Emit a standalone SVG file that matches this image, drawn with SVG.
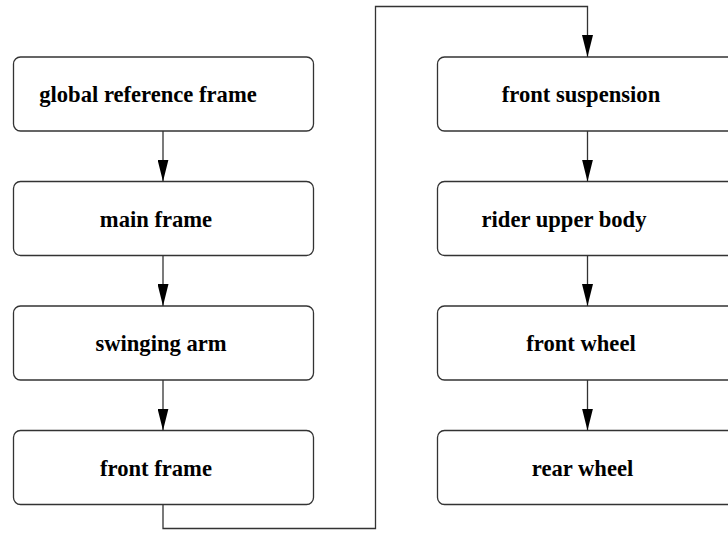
<svg xmlns="http://www.w3.org/2000/svg" width="728" height="534" viewBox="0 0 728 534">
  <style>
    .box { fill: #ffffff; stroke: #333333; stroke-width: 1.3; }
    .label { font-family: "Liberation Serif", "Times New Roman", serif; font-weight: bold; font-size: 22.6px; fill: #000000; text-anchor: middle; }
    .edge { fill: none; stroke: #333333; stroke-width: 1.3; marker-end: url(#arrow); }
  </style>
  <defs>
    <marker id="arrow" markerUnits="userSpaceOnUse" markerWidth="22" markerHeight="11" refX="22" refY="5.5" orient="auto" viewBox="0 0 22 11">
      <path d="M0,0 L22,5.5 L0,11 Z" fill="#000000"/>
    </marker>
  </defs>
  <rect width="728" height="534" fill="#ffffff"/>

  <!-- left column -->
  <g id="global-reference-frame">
    <rect class="box" x="13.5" y="57" width="300" height="74" rx="7"/>
    <text class="label" x="148" y="102">global reference frame</text>
  </g>
  <g id="main-frame">
    <rect class="box" x="13.5" y="181.5" width="300" height="74" rx="7"/>
    <text class="label" x="156" y="226.5">main frame</text>
  </g>
  <g id="swinging-arm">
    <rect class="box" x="13.5" y="306" width="300" height="74" rx="7"/>
    <text class="label" x="161" y="351">swinging arm</text>
  </g>
  <g id="front-frame">
    <rect class="box" x="13.5" y="430.5" width="300" height="74" rx="7"/>
    <text class="label" x="156" y="476">front frame</text>
  </g>

  <!-- right column -->
  <g id="front-suspension">
    <rect class="box" x="437.5" y="57" width="300" height="74" rx="7"/>
    <text class="label" x="581" y="102">front suspension</text>
  </g>
  <g id="rider-upper-body">
    <rect class="box" x="437.5" y="181.5" width="300" height="74" rx="7"/>
    <text class="label" x="564" y="226.5">rider upper body</text>
  </g>
  <g id="front-wheel">
    <rect class="box" x="437.5" y="306" width="300" height="74" rx="7"/>
    <text class="label" x="581" y="351">front wheel</text>
  </g>
  <g id="rear-wheel">
    <rect class="box" x="437.5" y="430.5" width="300" height="74" rx="7"/>
    <text class="label" x="582.5" y="476">rear wheel</text>
  </g>

  <!-- connectors -->
  <g id="connectors">
    <path class="edge" d="M163,131 V181.5"/>
    <path class="edge" d="M163,255.5 V306"/>
    <path class="edge" d="M163,380 V430.5"/>
    <path class="edge" d="M163,504.5 V528.5 H375.5 V6.5 H587.5 V57"/>
    <path class="edge" d="M587.5,131 V181.5"/>
    <path class="edge" d="M587.5,255.5 V306"/>
    <path class="edge" d="M587.5,380 V430.5"/>
  </g>
</svg>
